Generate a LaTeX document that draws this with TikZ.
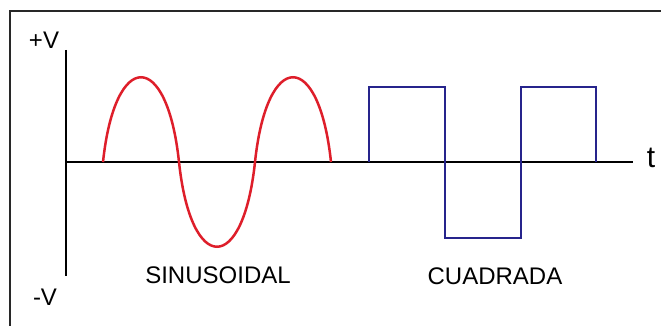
\documentclass[tikz,border=0pt]{standalone}
\usepackage{fontspec}
\setmainfont{Liberation Sans}
\definecolor{sinred}{RGB}{222,30,42}
\definecolor{sqblue}{RGB}{38,36,140}
\definecolor{framegray}{RGB}{40,40,40}
\begin{document}
\begin{tikzpicture}[x=1pt,y=-1pt,
  lbl/.style={inner sep=0pt,font=\fontsize{24}{24}\selectfont},
  axisline/.style={line width=2.6pt,black},
  sinewave/.style={line width=2.5pt,sinred},
  squarewave/.style={line width=2.5pt,sqblue,line join=miter}]
\useasboundingbox (0,0) rectangle (661,326);
\fill[white] (0,0) rectangle (661,326);
% frame
\coordinate (fbl) at (10,326);
\coordinate (ftl) at (10,11);
\coordinate (ftr) at (661,11);
\draw[line width=2pt,framegray] (fbl) -- (ftl) -- (ftr);
% axes
\coordinate (ytop) at (66,50);
\coordinate (ybot) at (66,276);
\coordinate (xl) at (66,162);
\coordinate (xr) at (633,162);
\draw[axisline] (ytop) -- (ybot);
\draw[axisline] (xl) -- (xr);
% sine wave
\coordinate (s0) at (103,162);
\coordinate (s1) at (179,162);
\coordinate (s2) at (255,162);
\coordinate (s3) at (331,162);
\draw[sinewave] (s0) .. controls (115,49) and (167,49) .. (s1)
  .. controls (191,275) and (243,275) .. (s2)
  .. controls (267,49) and (319,49) .. (s3);
% square wave
\coordinate (q0) at (369,162);
\coordinate (q5) at (596,162);
\draw[squarewave] (q0) -- (369,87) -- (445,87) -- (445,238) -- (521,238) -- (521,87) -- (596,87) -- (q5);
% labels
\node[lbl] (pv) at (44,40) {+V};
\node[lbl] (mv) at (45,297) {-V};
\node[lbl] (sin) at (218,275) {SINUSOIDAL};
\node[lbl] (cua) at (495,276) {CUADRADA};
\node[inner sep=0pt,font=\fontsize{30}{30}\selectfont,anchor=base] (t) at (651,167) {t};
\end{tikzpicture}
\end{document}
